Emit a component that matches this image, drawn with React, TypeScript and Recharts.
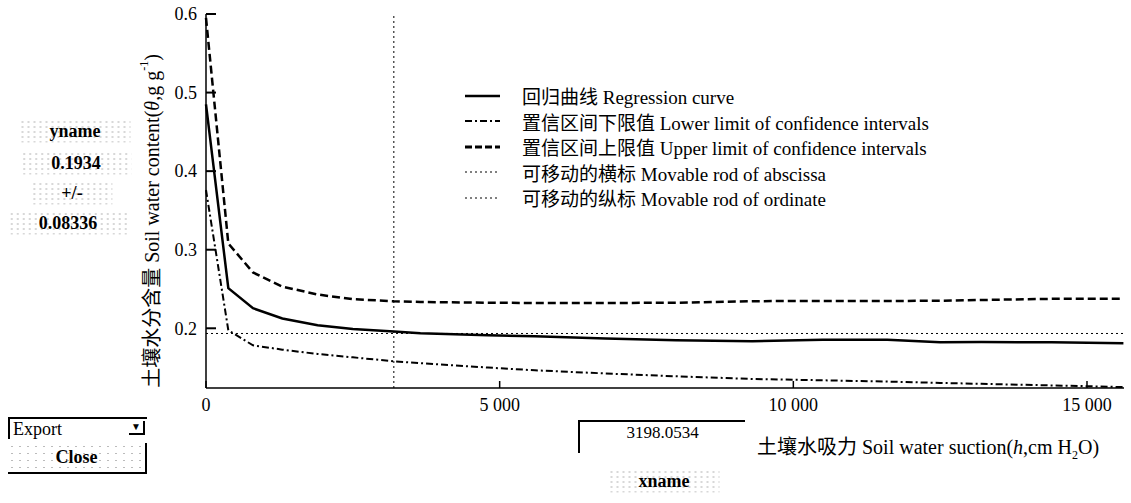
import {
  ComposedChart,
  Line,
  XAxis,
  YAxis,
  ReferenceLine,
  Legend,
} from 'recharts';

// values
const suction = [0, 380, 800, 1300, 1900, 2500, 3200, 3650, 4800, 5600, 6800, 8000, 9300, 10500, 11600, 12500, 13200, 14400, 15620];
const regression = [0.485, 0.251, 0.2255, 0.2125, 0.204, 0.199, 0.196, 0.1936, 0.191, 0.1898, 0.187, 0.1848, 0.1835, 0.1855, 0.1855, 0.1822, 0.1825, 0.1822, 0.181];
const lowerLimit = [0.376, 0.1975, 0.1783, 0.1728, 0.1673, 0.163, 0.158, 0.1556, 0.15, 0.1465, 0.1425, 0.1389, 0.1355, 0.1338, 0.1322, 0.1305, 0.1293, 0.1273, 0.1252];
const upperLimit = [0.595, 0.308, 0.271, 0.253, 0.243, 0.237, 0.2344, 0.2335, 0.2325, 0.2322, 0.2322, 0.2325, 0.2345, 0.2348, 0.2348, 0.235, 0.236, 0.2375, 0.2377];

const xTicks = [0, 5000, 10000, 15000];
const yTicks = [0.2, 0.3, 0.4, 0.5, 0.6];
const xMax = 15630;
const yMin = 0.124;
const rodX = 3198.0534;
const rodY = 0.1934;
const plusMinus = 0.08336;

const legendItems = [
  { label: '回归曲线 Regression curve', dash: undefined, width: 2.5 },
  { label: '置信区间下限值 Lower limit of confidence intervals', dash: '7 3 2 3', width: 2 },
  { label: '置信区间上限值 Upper limit of confidence intervals', dash: '7 3', width: 3 },
  { label: '可移动的横标 Movable rod of abscissa', dash: '2 3', width: 1 },
  { label: '可移动的纵标 Movable rod of ordinate', dash: '2 3', width: 1 },
];

const data = suction.map((h, i) => ({
  h,
  reg: regression[i],
  lo: lowerLimit[i],
  up: upperLimit[i],
}));

const FONT = "'Liberation Serif', 'Noto Sans CJK SC', serif";

const fmtX = (v: number) => String(v).replace(/\B(?=(\d{3})+(?!\d))/g, ' ');

// ticks point inward: the mark is drawn next to the label
function YTick(props: any) {
  const x = Number(props.x);
  const y = Number(props.y);
  return (
    <g>
      <path d={`M${x + 9},${y}h10`} stroke="#000" strokeWidth={2} fill="none" />
      <text x={x} y={y} dy="0.35em" textAnchor="end" fontSize={18} fontFamily={FONT} fill="#000">
        {props.payload.value}
      </text>
    </g>
  );
}

function XTick(props: any) {
  const x = Number(props.x);
  const y = Number(props.y);
  return (
    <g>
      <path d={`M${x},${y - 10}v-7`} stroke="#000" strokeWidth={1.5} fill="none" />
      <text x={x} y={y} dy="0.71em" textAnchor="middle" fontSize={18} fontFamily={FONT} fill="#000">
        {fmtX(props.payload.value)}
      </text>
    </g>
  );
}

function LegendBox() {
  return (
    <div style={{ fontFamily: FONT, fontSize: 19, color: '#000' }}>
      {legendItems.map((it) => (
        <div key={it.label} style={{ display: 'flex', alignItems: 'center', height: 25.5 }}>
          <svg width={57} height={10} style={{ flexShrink: 0 }}>
            <line x1={0} y1={5} x2={35} y2={5} stroke="#000" strokeWidth={it.width} strokeDasharray={it.dash} />
          </svg>
          <span style={{ whiteSpace: 'nowrap' }}>{it.label}</span>
        </div>
      ))}
    </div>
  );
}

const abs = (left: number, top: number, extra: React.CSSProperties = {}): React.CSSProperties => ({
  position: 'absolute',
  left,
  top,
  fontFamily: FONT,
  color: '#000',
  whiteSpace: 'nowrap',
  ...extra,
});

const speckle: React.CSSProperties = {
  backgroundImage: 'radial-gradient(#b0b0b0 0.6px, transparent 1px)',
  backgroundSize: '6px 5px',
  padding: '1px 30px',
  fontSize: 18,
  fontWeight: 'bold',
  transform: 'translate(-50%,-50%)',
};

export default function App() {
  return (
    <div style={{ position: 'relative', width: 1131, height: 503, background: '#fff' }}>
      <style>{`body{margin:0}`}</style>
      <ComposedChart
        width={1131}
        height={503}
        data={data}
        margin={{ top: 14, right: 7, left: 0, bottom: 85 }}
      >
        <XAxis
          type="number"
          dataKey="h"
          domain={[0, xMax]}
          ticks={xTicks}
          height={30}
          tickSize={0}
          tickMargin={10}
          axisLine={{ stroke: '#000', strokeWidth: 1.5 }}
          tickLine={false}
          tick={<XTick />}
        />
        <YAxis
          type="number"
          domain={[yMin, 0.6]}
          ticks={yTicks}
          width={206}
          tickSize={0}
          tickMargin={9}
          axisLine={{ stroke: '#000', strokeWidth: 1.5 }}
          tickLine={false}
          tick={<YTick />}
          allowDataOverflow
        />
        <ReferenceLine x={rodX} stroke="#000" strokeWidth={1} strokeDasharray="2 3" />
        <ReferenceLine y={rodY} stroke="#000" strokeWidth={1} strokeDasharray="2 3" />
        <Line dataKey="up" type="linear" stroke="#000" strokeWidth={2.5} strokeDasharray="8 4" dot={false} isAnimationActive={false} />
        <Line dataKey="reg" type="linear" stroke="#000" strokeWidth={2.5} dot={false} isAnimationActive={false} />
        <Line dataKey="lo" type="linear" stroke="#000" strokeWidth={2} strokeDasharray="7 3 2 3" dot={false} isAnimationActive={false} />
        <Legend
          layout="vertical"
          align="center"
          verticalAlign="middle"
          content={() => <LegendBox />}
          wrapperStyle={{ left: 465, top: 83, width: 520, height: 130 }}
        />
      </ComposedChart>

      {/* y axis title, drawn as svg text */}
      <svg style={{ position: 'absolute', left: 130, top: 40, overflow: 'visible' }} width={40} height={360}>
        <text
          transform="translate(22,181) rotate(-90)"
          textAnchor="middle"
          dominantBaseline="central"
          fontFamily={FONT}
          fontSize={20}
          fill="#000"
        >
          土壤水分含量 Soil water content(<tspan fontStyle="italic">θ</tspan>,g g
          <tspan fontSize={12} dy={-8}>-1</tspan>
          <tspan dy={8}>)</tspan>
        </text>
      </svg>
      <div style={abs(757, 431, { fontSize: 20 })}>
        土壤水吸力 Soil water suction(<i>h</i>,cm H<sub style={{ fontSize: 12 }}>2</sub>O)
      </div>

      {/* left-hand panel */}
      <div style={abs(75, 131, speckle)}>yname</div>
      <div style={abs(76, 163, speckle)}>{rodY}</div>
      <div style={abs(72, 193, speckle)}>+/-</div>
      <div style={abs(68, 223, speckle)}>{plusMinus}</div>

      <div
        style={abs(8, 417, {
          borderTop: '2px solid #000',
          borderLeft: '2px solid #000',
          fontSize: 18,
          lineHeight: '20px',
          paddingLeft: 3,
          boxSizing: 'border-box',
          width: 139,
          height: 22,
        })}
      >
        Export
        <span style={{ position: 'absolute', right: 2, top: 2, fontSize: 10, lineHeight: '12px', borderRight: '2px solid #000', borderBottom: '2px solid #000', padding: '0 2px' }}>▼</span>
      </div>
      <div
        style={abs(8, 443, {
          width: 139,
          height: 31,
          borderRight: '2px solid #000',
          borderBottom: '2px solid #000',
          boxSizing: 'border-box',
          fontSize: 18,
          fontWeight: 'bold',
          textAlign: 'center',
          lineHeight: '29px',
          backgroundImage: 'radial-gradient(#bbb 0.6px, transparent 1px)',
          backgroundSize: '8px 7px',
        })}
      >
        Close
      </div>

      <div
        style={abs(578, 420, {
          width: 167,
          height: 33,
          borderTop: '2px solid #000',
          borderLeft: '2px solid #000',
          boxSizing: 'border-box',
          fontSize: 17,
          textAlign: 'center',
          lineHeight: '22px',
        })}
      >
        {rodX}
      </div>
      <div style={abs(664, 481, speckle)}>xname</div>
    </div>
  );
}
